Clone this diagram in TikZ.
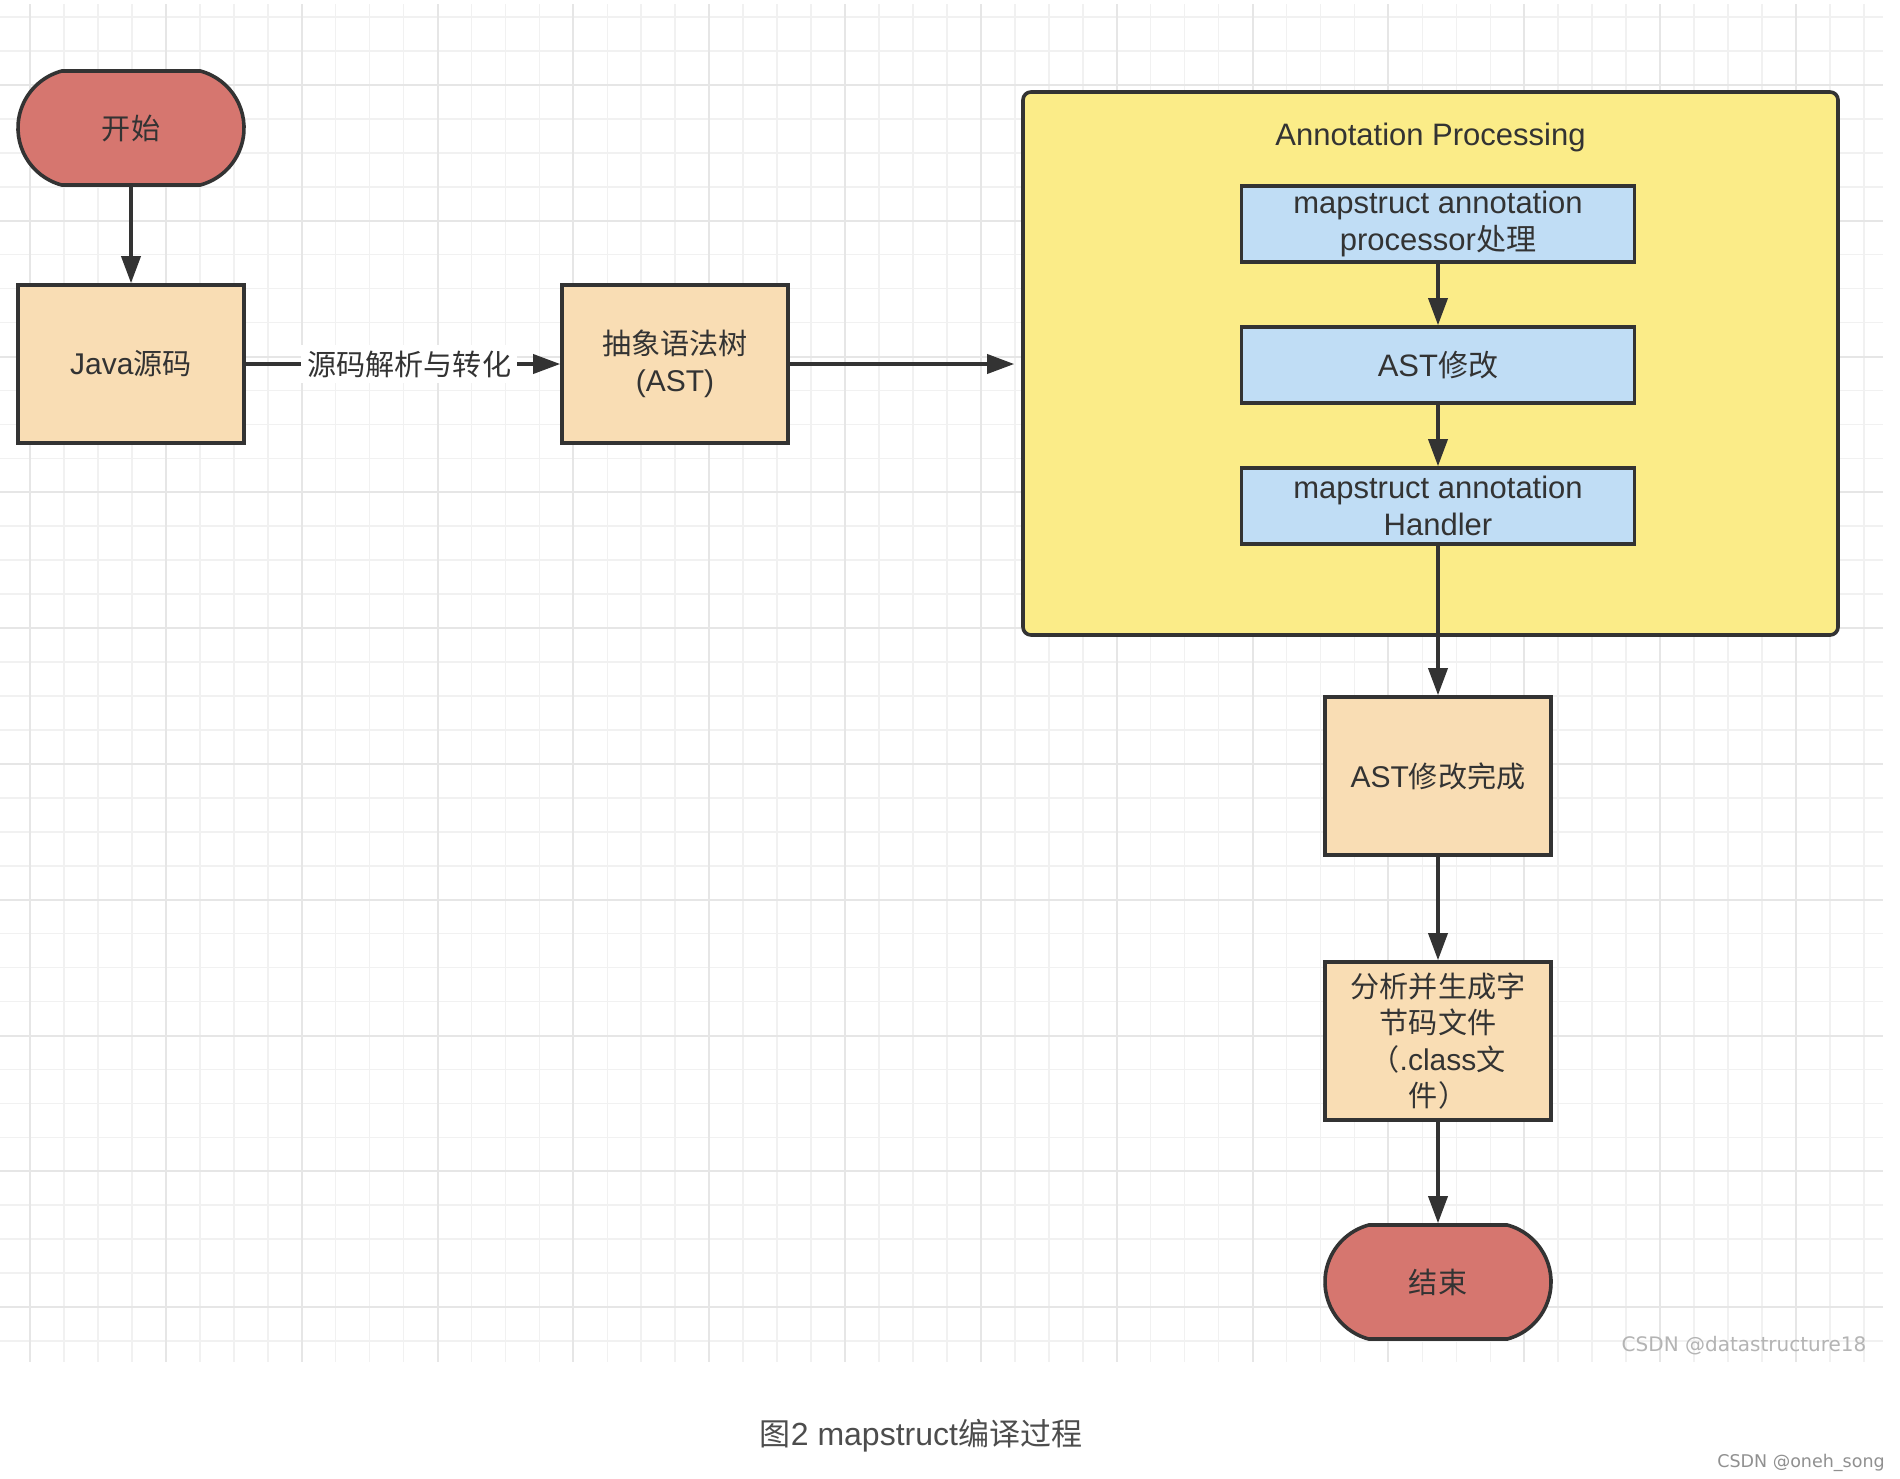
\documentclass[tikz,border=0pt]{standalone}
\usepackage{fontspec}
\setmainfont{Liberation Sans}
\newfontfamily\cjk[Scale=0.97]{Noto Sans CJK SC}
\newfontfamily\wmfont{DejaVu Sans}
\usetikzlibrary{arrows.meta,positioning,shapes.misc}

\definecolor{lineclr}{HTML}{333333}
\definecolor{termred}{HTML}{D6766F}
\definecolor{stepfill}{HTML}{F9DDB4}
\definecolor{groupyellow}{HTML}{FBEC88}
\definecolor{subblue}{HTML}{C0DDF5}
\definecolor{gridmajor}{HTML}{E6E6E6}
\definecolor{gridminor}{HTML}{F1F1F1}
\definecolor{capgray}{HTML}{4D4D4D}
\definecolor{wmgray}{HTML}{B4B4B4}

\tikzset{
  base/.style={draw=lineclr, line width=3.6pt, text=lineclr,
    font=\fontsize{30}{36.5}\selectfont, align=center, inner sep=0pt},
  terminal/.style={base, rounded rectangle, rounded rectangle arc length=150,
    fill=termred, minimum width=226pt, minimum height=114pt},
  stepbox/.style={base, rectangle, fill=stepfill, minimum width=226pt, minimum height=158pt},
  subbox/.style={base, rectangle, fill=subblue, minimum width=393pt, minimum height=76pt,
    font=\fontsize{31}{36.5}\selectfont},
  group/.style={base, rectangle, rounded corners=8pt, fill=groupyellow,
    minimum width=815pt, minimum height=543pt},
  flow/.style={draw=lineclr, line width=3.6pt, -{Triangle[length=27pt,width=19pt]}},
}

\begin{document}
\begin{tikzpicture}[x=1pt, y=-1pt, node distance=2cm, on grid]
  \useasboundingbox[fill=white] (0,0) rectangle (1900,1478);
  % background grid
  \foreach \k in {0,...,54}
    \draw[gridminor, line width=1.6pt] ({30+33.96*\k},4) -- ({30+33.96*\k},1362);
  \foreach \k in {0,...,39}
    \draw[gridminor, line width=1.6pt] (0,{17+33.95*\k}) -- (1883,{17+33.95*\k});
  \foreach \k in {0,...,13}
    \draw[gridmajor, line width=2pt] ({30+135.84*\k},4) -- ({30+135.84*\k},1362);
  \foreach \k in {0,...,9}
    \draw[gridmajor, line width=2pt] (0,{84.9+135.8*\k}) -- (1883,{84.9+135.8*\k});

  \node[terminal] (start) at (131,128) {{\cjk 开始}};
  \node[stepbox] (java) [below=236pt of start] {Java{\cjk 源码}};
  \node[stepbox] (ast) [right=544pt of java] {{\cjk 抽象语法树}\\(AST)};

  % annotation processing group
  \node[group] (ap) at (1430.5,363.5) {};
  \node[text=lineclr, font=\fontsize{31}{36}\selectfont] (aptitle) [below=29pt of ap.north] {Annotation Processing};
  \node[subbox] (proc) at (1438,224) {mapstruct annotation\\processor{\cjk 处理}};
  \node[subbox] (mod) [below=141pt of proc] {AST{\cjk 修改}};
  \node[subbox] (handler) [below=141pt of mod] {mapstruct annotation\\Handler};

  \node[stepbox] (done) [below=270pt of handler] {AST{\cjk 修改完成}};
  \node[stepbox] (gen) [below=265pt of done] {{\cjk 分析并生成字}\\{\cjk 节码文件}\\{\cjk （}.class{\cjk 文}\\{\cjk 件）}};
  \node[terminal] (end) [below=241pt of gen] {{\cjk 结束}};

  \draw[flow] (start) -- (java);
  \draw[flow] (java) -- node[pos=0.52, fill=white, inner sep=6pt, text=lineclr, font=\fontsize{30}{36}\selectfont] (conv) {{\cjk 源码解析与转化}} (ast);
  \draw[flow, shorten >=7pt] (ast) -- (ast -| ap.west);
  \draw[flow] (proc) -- (mod);
  \draw[flow] (mod) -- (handler);
  \draw[flow] (handler) -- (done);
  \draw[flow] (done) -- (gen);
  \draw[flow] (gen) -- (end);

  \node[text=capgray, font=\fontsize{32}{38}\selectfont] (caption) at (921,1436) {{\cjk 图}2 mapstruct{\cjk 编译过程}};
  \node[text=wmgray, font=\wmfont\fontsize{20}{24}\selectfont] (wm1) at (1744,1346) {CSDN @datastructure18};
  \node[text=wmgray!80!black, font=\wmfont\fontsize{17.5}{21}\selectfont] (wm2) at (1801,1463) {CSDN @oneh\_song};
\end{tikzpicture}
\end{document}
